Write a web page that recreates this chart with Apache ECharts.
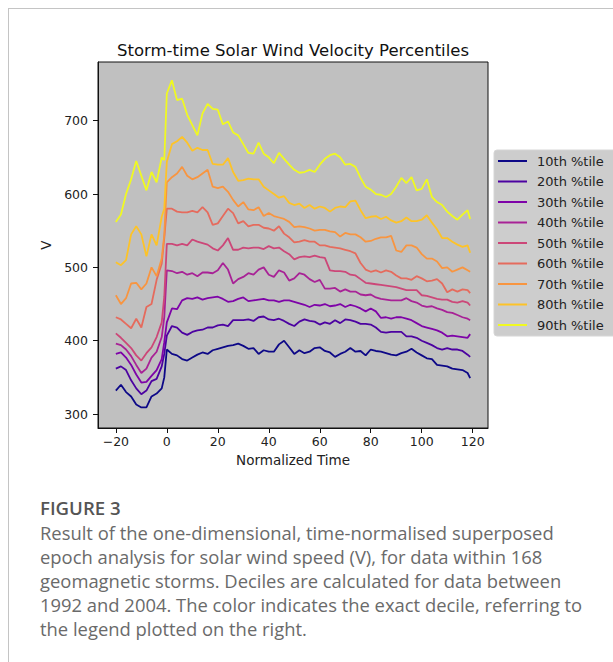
<!DOCTYPE html>
<html>
<head>
<meta charset="utf-8">
<script src="https://cdn.jsdelivr.net/npm/echarts@6/dist/echarts.min.js"></script>
<style>
  html, body { margin: 0; padding: 0; background: #fff; }
  #wrap { position: relative; width: 613px; height: 662px; overflow: hidden; }
  #frame { position: absolute; left: 8px; top: 8px; width: 620px; height: 670px;
           border-left: 1px solid #c4c4c4; border-top: 1px solid #c4c4c4; }
  #chart { position: absolute; left: 0; top: 0; width: 613px; height: 662px; }
  .cap { position: absolute; left: 40px; font-family: "Open Sans", sans-serif; white-space: pre; }
  #fig { top: 497px; font-size: 18.6px; line-height: 22px; font-weight: 600; color: #555; }
  #body { top: 521px; font-size: 18.4px; line-height: 24px; color: #6a6a6a; }
</style>
</head>
<body>
<div id="wrap">
  <div id="frame"></div>
  <div id="chart"></div>
  <div class="cap" id="fig">FIGURE 3</div>
  <div class="cap" id="body">Result of the one-dimensional, time-normalised superposed
epoch analysis for solar wind speed (V), for data within 168
geomagnetic storms. Deciles are calculated for data between
1992 and 2004. The color indicates the exact decile, referring to
the legend plotted on the right.</div>
</div>
<script>
// Normalized time samples
const times = [-20,-18,-16,-14,-12,-10,-8,-6,-4,-2,-1,
  0,2,4,6,8,10,12,14,16,18,20,22,24,26,28,30,32,34,36,38,
  40,42,44,46,48,50,52,54,56,58,60,62,64,66,68,70,72,74,76,78,
  80,82,84,86,88,90,92,94,96,98,100,102,104,106,108,110,112,114,116,118,119];

const p10 = [332,340,330,324,313,309,309,324,328,335,350,
  388,382,380,375,373,377,381,384,382,387,
  389,391,393,394,396,393,389,390,382,387,
  385,385,395,400,391,382,387,383,385,390,
  391,386,384,378,382,385,390,385,386,380,
  388,386,385,383,381,380,383,385,389,384,
  380,376,375,367,366,365,362,361,360,356,349];
const p20 = [362,365,360,346,335,327,332,345,348,365,382,
  407,420,418,411,408,412,414,415,418,418,
  421,422,420,428,428,428,429,427,432,433,
  429,428,430,427,423,420,426,429,427,426,
  422,425,423,428,424,429,428,426,423,423,
  422,418,412,411,412,412,412,406,406,404,
  400,397,394,390,388,390,388,388,386,381,378];
const p30 = [382,384,377,367,354,343,344,352,360,375,398,
  425,444,443,455,458,457,459,456,458,459,
  460,457,453,454,457,459,454,455,456,457,
  455,455,453,455,455,453,451,449,446,449,
  448,450,447,448,450,446,449,447,444,440,
  444,440,431,432,430,432,432,430,428,424,
  420,418,416,414,411,406,407,406,405,404,409];
const p40 = [396,394,388,379,367,356,362,377,385,405,432,
  496,495,492,494,490,492,488,493,493,492,
  496,506,497,478,484,487,492,490,497,500,
  490,487,496,493,482,485,492,490,484,480,
  483,471,471,472,467,470,467,467,463,462,
  463,459,457,456,455,455,455,458,454,452,
  448,446,447,444,442,439,438,435,432,430,428];
const p50 = [410,404,397,390,380,373,383,391,405,425,460,
  532,532,530,532,530,538,535,533,531,526,
  523,530,540,524,524,527,526,527,527,525,
  529,526,527,522,518,511,514,515,514,516,
  514,513,496,495,495,494,490,489,484,479,
  478,477,476,475,474,473,471,469,469,469,
  462,461,459,457,456,456,453,452,454,452,448];
const p60 = [432,429,423,417,430,418,446,450,483,505,540,
  580,580,576,575,575,577,575,582,575,558,
  560,570,580,574,560,563,556,558,558,554,
  553,550,556,546,541,534,535,537,535,535,
  530,530,528,527,526,524,522,519,506,497,
  494,496,493,496,494,489,485,485,483,488,
  485,481,482,484,478,466,470,467,470,469,465];
const p70 = [462,450,458,478,479,470,478,500,488,512,544,
  616,623,628,637,625,620,623,628,633,610,
  608,610,603,592,583,589,579,578,582,570,
  574,570,568,566,562,555,556,555,553,550,
  551,551,549,548,542,547,545,545,541,535,
  536,539,541,541,543,523,521,530,530,527,
  518,512,512,508,499,500,494,497,500,496,494];
const p80 = [507,503,510,545,556,545,515,545,530,569,580,
  644,668,672,678,670,659,663,660,660,641,
  640,640,649,630,618,619,621,620,620,610,
  605,600,595,597,588,585,587,581,585,580,
  583,581,576,581,583,582,590,591,578,567,
  569,570,566,569,564,561,563,568,563,563,
  565,571,561,552,540,540,535,531,528,530,520];
const p90 = [562,572,600,620,645,625,605,630,616,650,646,
  737,755,728,730,708,694,680,710,723,716,
  715,695,699,684,680,668,656,655,670,655,
  650,642,656,648,640,633,629,630,633,630,
  640,648,653,655,650,640,641,637,622,610,
  606,600,599,596,600,610,622,615,623,605,
  607,620,596,589,585,576,570,565,572,578,566];

const seriesNames = ['10th %tile','20th %tile','30th %tile','40th %tile','50th %tile',
  '60th %tile','70th %tile','80th %tile','90th %tile'];
const seriesValues = [p10,p20,p30,p40,p50,p60,p70,p80,p90];
const colors = ['#0d0887','#4c02a1','#7e03a8','#a82296','#cc4778','#e56b5d','#f89540','#fdc328','#f0f921'];

const xTicks = [-20,0,20,40,60,80,100,120];
const yTicks = [300,400,500,600,700];

const FONT = '"DejaVu Sans", sans-serif';
const chart = echarts.init(document.getElementById('chart'), null, {renderer: 'svg'});

const series = seriesNames.map((name, i) => ({
  name: name,
  type: 'line',
  data: times.map((t, j) => [t, seriesValues[i][j]]),
  symbol: 'none',
  showSymbol: false,
  lineStyle: { width: 1.8, color: colors[i] },
  itemStyle: { color: colors[i] },
  emphasis: { disabled: true }
}));

chart.setOption({
  animation: false,
  backgroundColor: 'transparent',
  title: {
    text: 'Storm-time Solar Wind Velocity Percentiles',
    left: 288, top: 37, textAlign: 'center',
    textStyle: { fontFamily: FONT, fontSize: 16.5, fontWeight: 'normal', color: '#111' }
  },
  grid: {
    left: 98, top: 62, width: 390, height: 366,
    show: true, backgroundColor: '#c0c0c0', borderColor: '#111', borderWidth: 1
  },
  legend: {
    data: seriesNames,
    orient: 'vertical',
    left: 494, top: 150,
    icon: 'rect',
    itemWidth: 29, itemHeight: 2, itemGap: 6.5,
    padding: [4, 14, 4, 4],
    backgroundColor: '#cdcdcd', borderColor: '#d6d6d6', borderWidth: 1, borderRadius: 3,
    textStyle: { fontFamily: FONT, fontSize: 13, lineHeight: 14, color: '#222', padding: [0, 0, 0, 5] }
  },
  xAxis: {
    type: 'value', min: -27, max: 126,
    name: 'Normalized Time', nameLocation: 'middle', nameGap: 25,
    nameTextStyle: { fontFamily: FONT, fontSize: 13.5, color: '#222' },
    axisLine: { show: true, onZero: false, lineStyle: { color: '#111', width: 1 } },
    axisTick: { show: true, length: 5, customValues: xTicks, lineStyle: { color: '#111' } },
    axisLabel: { customValues: xTicks, margin: 7, fontFamily: FONT, fontSize: 12.5, color: '#222',
      formatter: v => String(v).replace('-', '\u2212') },
    splitLine: { show: false }
  },
  yAxis: {
    type: 'value', min: 281, max: 780,
    name: 'V', nameLocation: 'middle', nameGap: 42,
    nameTextStyle: { fontFamily: FONT, fontSize: 13.5, color: '#222' },
    axisLine: { show: true, onZero: false, lineStyle: { color: '#111', width: 1 } },
    axisTick: { show: true, length: 5, customValues: yTicks, lineStyle: { color: '#111' } },
    axisLabel: { customValues: yTicks, margin: 10, fontFamily: FONT, fontSize: 12.5, color: '#222' },
    splitLine: { show: false }
  },
  series: series
});
</script>
</body>
</html>
